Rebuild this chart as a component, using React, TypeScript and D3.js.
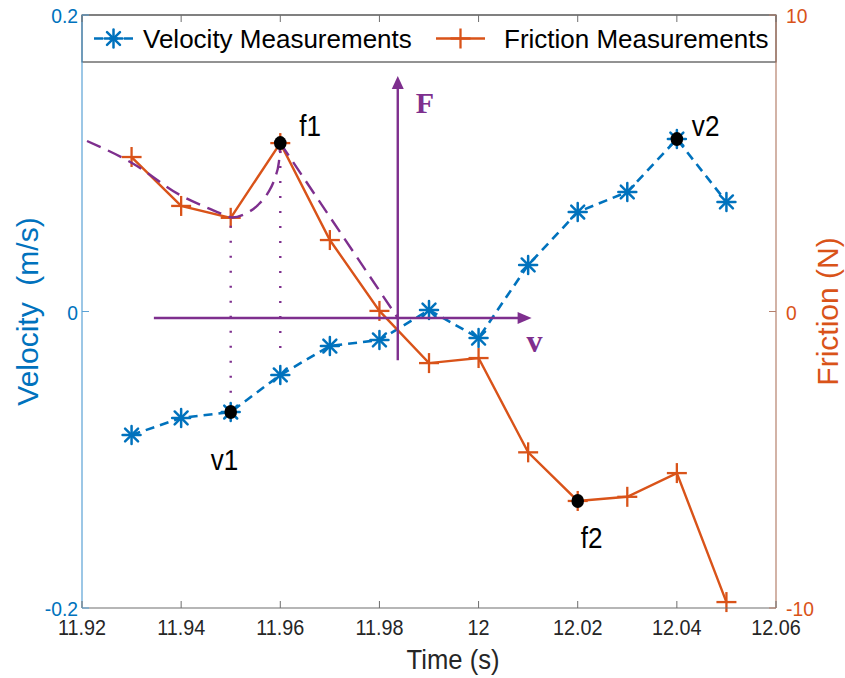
import React from 'react';
import * as d3 from 'd3';

// Sample times (s)
const times = [11.93, 11.94, 11.95, 11.96, 11.97, 11.98, 11.99, 12.0, 12.01, 12.02, 12.03, 12.04, 12.05];
// Velocity measurements (m/s)
const velocity = [-0.0833, -0.0718, -0.0678, -0.0428, -0.0233, -0.0192, 0.001, -0.0179, 0.0314, 0.0671, 0.0806, 0.1163, 0.0739];
// Friction measurements (N)
const friction = [5.21, 3.56, 3.16, 5.68, 2.41, 0.02, -1.74, -1.57, -4.75, -6.39, -6.25, -5.45, -9.8];

const xTicks = [11.92, 11.94, 11.96, 11.98, 12, 12.02, 12.04, 12.06];
const xTickLabels = ['11.92', '11.94', '11.96', '11.98', '12', '12.02', '12.04', '12.06'];
const velocityTicks = [-0.2, 0, 0.2];
const velocityTickLabels = ['-0.2', '0', '0.2'];
const frictionTicks = [-10, 0, 10];
const frictionTickLabels = ['-10', '0', '10'];

// Sketched friction-velocity (Stribeck) characteristic, in (time, friction) units
const stribeckHead: [number, number][] = [
  [11.92101, 5.75], [11.93008, 5.01], [11.93976, 3.93], [11.94581, 3.46], [11.94883, 3.25],
  [11.95024, 3.17], [11.95286, 3.29], [11.95548, 3.59], [11.9575, 4.0], [11.95891, 4.5],
  [11.95972, 5.04], [11.96, 5.68],
];
const stribeckTail: [number, number][] = [[11.96, 5.68], [11.9837, -0.22]];

// Phase-plane axes drawn over the plot (time, friction units)
const phaseOrigin: [number, number] = [11.9837, -0.22];
const phaseFExtent: [number, number] = [-1.64, 7.94];
const phaseVExtent: [number, number] = [11.9345, 12.0107];

// Highlighted samples
const highlights = [
  { name: 'v1', series: 'velocity', t: 11.95 },
  { name: 'f1', series: 'friction', t: 11.96 },
  { name: 'v2', series: 'velocity', t: 12.04 },
  { name: 'f2', series: 'friction', t: 12.02 },
];
// Vertical guides joining the two series
const guideTimes = [11.95, 11.96];

const W = 845;
const H = 678;
const L = 82, R = 776, T = 15, B = 608;

const BLUE = '#0072BD';
const ORANGE = '#D95319';
const PURPLE = '#7E2F8E';
const INK = '#262626';
const SANS = '"Liberation Sans", Arial, Helvetica, sans-serif';
const SERIF = '"Liberation Serif", "Times New Roman", serif';

const x = d3.scaleLinear().domain([11.92, 12.06]).range([L, R]);
const yV = d3.scaleLinear().domain([-0.2, 0.2]).range([B, T]);
const yF = d3.scaleLinear().domain([-10, 10]).range([B, T]);

type TxtProps = {
  x: number; y: number; size: number; sx?: number; anchor?: string; fill?: string;
  rotate?: number; weight?: string | number; family?: string; children: React.ReactNode;
};
function Txt({ x, y, size, sx = 1, anchor = 'start', fill = INK, rotate = 0, weight = 'normal', family = SANS, children }: TxtProps) {
  return (
    <text
      transform={`translate(${x},${y}) rotate(${rotate}) scale(${sx},1)`}
      fontSize={size}
      textAnchor={anchor as any}
      fill={fill}
      fontWeight={weight as any}
      fontFamily={family}
      style={{ whiteSpace: 'pre' }}
    >
      {children}
    </text>
  );
}

function Star({ cx, cy, r = 9, color }: { cx: number; cy: number; r?: number; color: string }) {
  const d = r * 0.72;
  return (
    <g stroke={color} strokeWidth={2.5} strokeLinecap="round">
      <line x1={cx - r} y1={cy} x2={cx + r} y2={cy} />
      <line x1={cx} y1={cy - r} x2={cx} y2={cy + r} />
      <line x1={cx - d} y1={cy - d} x2={cx + d} y2={cy + d} />
      <line x1={cx - d} y1={cy + d} x2={cx + d} y2={cy - d} />
    </g>
  );
}

function Plus({ cx, cy, r = 10, color }: { cx: number; cy: number; r?: number; color: string }) {
  return (
    <g stroke={color} strokeWidth={2.3}>
      <line x1={cx - r} y1={cy} x2={cx + r} y2={cy} />
      <line x1={cx} y1={cy - r} x2={cx} y2={cy + r} />
    </g>
  );
}

export default function App() {
  const vLine = d3.line<number>().x((_, i) => x(times[i])).y((d) => yV(d));
  const fLine = d3.line<number>().x((_, i) => x(times[i])).y((d) => yF(d));
  const curveHead = d3.line<[number, number]>().x((d) => x(d[0])).y((d) => yF(d[1])).curve(d3.curveMonotoneX);
  const curveTail = d3.line<[number, number]>().x((d) => x(d[0])).y((d) => yF(d[1]));

  const ox = x(phaseOrigin[0]);
  const oy = yF(phaseOrigin[1]);
  const fTop = yF(phaseFExtent[1]);
  const fBottom = yF(phaseFExtent[0]);
  const vLeft = x(phaseVExtent[0]);
  const vRight = x(phaseVExtent[1]);

  const valueAt = (series: string, t: number) => {
    const i = times.findIndex((d) => Math.abs(d - t) < 1e-9);
    return series === 'velocity' ? yV(velocity[i]) : yF(friction[i]);
  };

  const labelOffsets: Record<string, [number, number]> = {
    v1: [-20, 58],
    f1: [19, -7],
    v2: [15, -3],
    f2: [3, 47],
  };

  return (
    <svg
      width={W}
      height={H}
      viewBox={`0 0 ${W} ${H}`}
      style={{ position: 'absolute', left: 0, top: 0, display: 'block', background: '#fff' }}
    >
      <rect x={0} y={0} width={W} height={H} fill="#fff" />

      {/* velocity series */}
      <path d={vLine(velocity) || ''} fill="none" stroke={BLUE} strokeWidth={2.6} strokeDasharray="9 6" />
      {velocity.map((v, i) => (
        <Star key={`s${i}`} cx={x(times[i])} cy={yV(v)} color={BLUE} />
      ))}

      {/* friction series */}
      <path d={fLine(friction) || ''} fill="none" stroke={ORANGE} strokeWidth={2.4} />
      {friction.map((f, i) => (
        <Plus key={`p${i}`} cx={x(times[i])} cy={yF(f)} color={ORANGE} />
      ))}

      {/* guides between the series */}
      {guideTimes.map((t) => (
        <line
          key={`g${t}`}
          x1={x(t)}
          x2={x(t)}
          y1={valueAt('friction', t) + 8}
          y2={valueAt('velocity', t) - 14}
          stroke={PURPLE}
          strokeWidth={2.4}
          strokeDasharray="2 13"
        />
      ))}

      {/* Stribeck sketch */}
      <path d={curveHead(stribeckHead) || ''} fill="none" stroke={PURPLE} strokeWidth={2.4} strokeDasharray="15 8" />
      <path d={curveTail(stribeckTail) || ''} fill="none" stroke={PURPLE} strokeWidth={2.4} strokeDasharray="15 8" />

      {/* phase-plane axes */}
      <g stroke={PURPLE} strokeWidth={2.4} fill="none">
        <line x1={ox} x2={ox} y1={fBottom} y2={fTop + 10} />
        <line x1={vLeft} x2={vRight - 12} y1={oy} y2={oy} />
      </g>
      <g fill={PURPLE}>
        <path d={`M${ox},${fTop} L${ox - 6},${fTop + 13} L${ox + 6},${fTop + 13} Z`} />
        <path d={`M${vRight},${oy} L${vRight - 14},${oy - 6} L${vRight - 14},${oy + 6} Z`} />
      </g>
      <Txt x={ox + 18} y={fTop + 37} size={30} family={SERIF} weight="bold" fill={PURPLE}>F</Txt>
      <Txt x={vRight - 5} y={oy + 34} size={32} family={SERIF} weight="bold" fill={PURPLE}>v</Txt>

      {/* highlighted samples */}
      {highlights.map((h) => {
        const cx = x(h.t);
        const cy = valueAt(h.series, h.t);
        const [dx, dy] = labelOffsets[h.name];
        return (
          <g key={h.name}>
            <ellipse cx={cx} cy={cy} rx={6.3} ry={7} fill="#000" />
            <Txt x={cx + dx} y={cy + dy} size={29} sx={0.9} fill="#000">{h.name}</Txt>
          </g>
        );
      })}

      {/* legend */}
      <rect x={L} y={T} width={R - L} height={47} fill="#fff" stroke={INK} strokeWidth={1} />
      <line x1={92} x2={135} y1={38.5} y2={38.5} stroke={BLUE} strokeWidth={2.6} strokeDasharray="9 6" strokeDashoffset={-2} />
      <Star cx={113.5} cy={38.5} color={BLUE} />
      <Txt x={143} y={47.5} size={26} fill="#000">Velocity Measurements</Txt>
      <line x1={436} x2={485} y1={38.5} y2={38.5} stroke={ORANGE} strokeWidth={2.4} />
      <Plus cx={460.5} cy={38.5} color={ORANGE} />
      <Txt x={504} y={47.5} size={26} fill="#000">Friction Measurements</Txt>

      {/* axes frame */}
      <line x1={L} x2={R} y1={B} y2={B} stroke="#6e6e6e" strokeWidth={1.2} />
      <line x1={L} x2={R} y1={T} y2={T} stroke="#6e6e6e" strokeWidth={1.2} />
      <line x1={L} x2={L} y1={T} y2={B} stroke="#5aa2d6" strokeWidth={1.2} />
      <line x1={R} x2={R} y1={T} y2={B} stroke="#b5806c" strokeWidth={1.2} />

      {/* x ticks */}
      {xTicks.map((t, i) => (
        <g key={`xt${i}`}>
          <line x1={x(t)} x2={x(t)} y1={B} y2={B - 7} stroke="#6e6e6e" strokeWidth={1} />
          <line x1={x(t)} x2={x(t)} y1={T} y2={T + 7} stroke="#6e6e6e" strokeWidth={1} />
          <Txt x={x(t)} y={635} size={22} sx={0.9} anchor="middle">{xTickLabels[i]}</Txt>
        </g>
      ))}

      {/* left ticks */}
      {velocityTicks.map((v, i) => (
        <g key={`yl${i}`}>
          <line x1={L} x2={L + 7} y1={yV(v)} y2={yV(v)} stroke="#5aa2d6" strokeWidth={1} />
          <Txt x={78} y={yV(v) + 8} size={21} sx={0.92} anchor="end" fill={BLUE}>{velocityTickLabels[i]}</Txt>
        </g>
      ))}

      {/* right ticks */}
      {frictionTicks.map((f, i) => (
        <g key={`yr${i}`}>
          <line x1={R} x2={R - 7} y1={yF(f)} y2={yF(f)} stroke="#b5806c" strokeWidth={1} />
          <Txt x={786} y={yF(f) + 8} size={21} sx={0.92} fill={ORANGE}>{frictionTickLabels[i]}</Txt>
        </g>
      ))}

      {/* axis titles */}
      <Txt x={453} y={669} size={27} sx={0.95} anchor="middle">Time (s)</Txt>
      <Txt x={38} y={(T + B) / 2} size={30} anchor="middle" rotate={-90} fill={BLUE}>{'Velocity\u00a0\u00a0(m/s)'}</Txt>
      <Txt x={838} y={(T + B) / 2} size={30} anchor="middle" rotate={-90} fill={ORANGE}>Friction (N)</Txt>
    </svg>
  );
}
